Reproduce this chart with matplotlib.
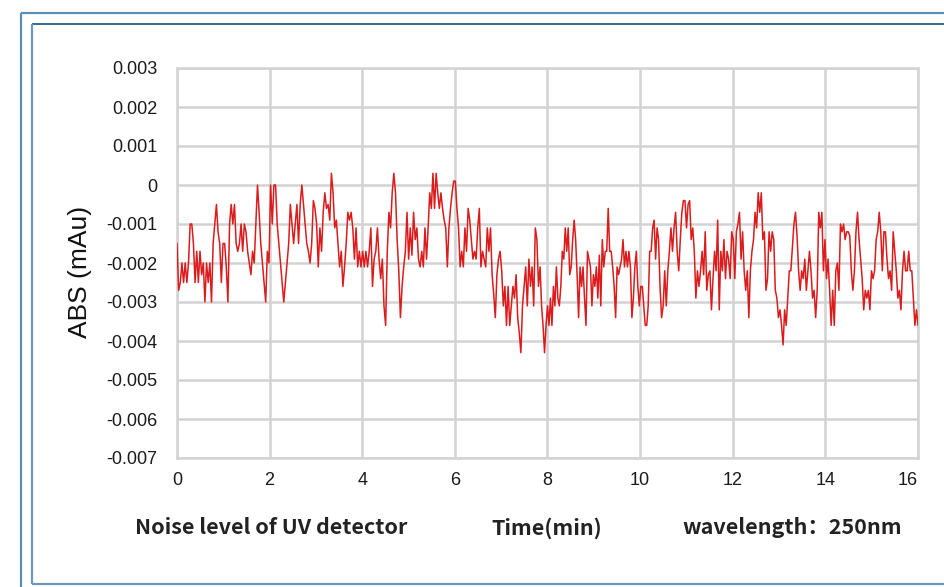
import numpy as np
import matplotlib
matplotlib.use("Agg")
import matplotlib.pyplot as plt
from matplotlib.lines import Line2D

# Detector baseline readings (ABS), logged in consecutive blocks;
# each block is sampled evenly between its start and end time (min)
block_bounds = [0.0, 2.66, 5.25, 7.84, 10.43, 13.02, 16.0]

block_1 = [
    -0.0015, -0.0027, -0.0025, -0.0020, -0.0025, -0.0020, -0.0025, -0.0020, -0.0010, -0.0010,
    -0.0015, -0.0025, -0.0017, -0.0025, -0.0017, -0.0023, -0.0020, -0.0030, -0.0020, -0.0025,
    -0.0020, -0.0030, -0.0015, -0.0010, -0.0005, -0.0012, -0.0015, -0.0025, -0.0015, -0.0015,
    -0.0021, -0.0030, -0.0010, -0.0005, -0.0010, -0.0005, -0.0015, -0.0017, -0.0015, -0.0010,
    -0.0017, -0.0010, -0.0012, -0.0017, -0.0020, -0.0023, -0.0017, -0.0020, -0.0010, 0.0000,
    -0.0007, -0.0015, -0.0020, -0.0025, -0.0030, -0.0017, -0.0020, 0.0000, -0.0010, 0.0000,
    0.0000, -0.0010, -0.0015, -0.0020, -0.0025, -0.0030, -0.0025, -0.0020, -0.0015, -0.0005,
    -0.0010, -0.0015, -0.0010, -0.0005, -0.0015,
]
block_2 = [
    -0.0005, 0.0000, -0.0005, -0.0010, -0.0015, -0.0017, -0.0020, -0.0015, -0.0004, -0.0006,
    -0.0010, -0.0021, -0.0011, -0.0017, -0.0007, -0.0002, -0.0006, -0.0005, -0.0009, 0.0003,
    -0.0002, -0.0011, -0.0009, -0.0015, -0.0021, -0.0017, -0.0026, -0.0021, -0.0015, -0.0007,
    -0.0009, -0.0007, -0.0011, -0.0019, -0.0011, -0.0021, -0.0017, -0.0021, -0.0017, -0.0021,
    -0.0017, -0.0021, -0.0017, -0.0011, -0.0026, -0.0019, -0.0017, -0.0011, -0.0019, -0.0024,
    -0.0019, -0.0031, -0.0036, -0.0017, -0.0007, -0.0011, -0.0002, 0.0003, -0.0002, -0.0014,
    -0.0022, -0.0034, -0.0026, -0.0021, -0.0017, -0.0007, -0.0019, -0.0011, -0.0018, -0.0007,
    -0.0014, -0.0011, -0.0019,
]
block_3 = [
    -0.0021, -0.0017, -0.0021, -0.0011, -0.0019, -0.0011, -0.0002, -0.0006, 0.0003, -0.0006,
    0.0003, -0.0002, -0.0006, -0.0002, -0.0006, -0.0009, -0.0011, -0.0021, -0.0011, -0.0006,
    -0.0002, 0.0001, 0.0001, -0.0006, -0.0011, -0.0021, -0.0017, -0.0021, -0.0011, -0.0017,
    -0.0006, -0.0009, -0.0014, -0.0019, -0.0017, -0.0019, -0.0011, -0.0006, -0.0021, -0.0017,
    -0.0019, -0.0021, -0.0011, -0.0017, -0.0011, -0.0023, -0.0028, -0.0034, -0.0023, -0.0019,
    -0.0017, -0.0022, -0.0031, -0.0026, -0.0036, -0.0026, -0.0036, -0.0031, -0.0026, -0.0029,
    -0.0023, -0.0034, -0.0038, -0.0043, -0.0031, -0.0026, -0.0021, -0.0031, -0.0019, -0.0026,
    -0.0021, -0.0031, -0.0011, -0.0014, -0.0026,
]
block_4 = [
    -0.0021, -0.0031, -0.0036, -0.0043, -0.0036, -0.0031, -0.0036, -0.0029, -0.0036, -0.0026,
    -0.0031, -0.0021, -0.0029, -0.0031, -0.0026, -0.0017, -0.0019, -0.0011, -0.0017, -0.0011,
    -0.0023, -0.0021, -0.0014, -0.0009, -0.0014, -0.0023, -0.0034, -0.0021, -0.0026, -0.0021,
    -0.0029, -0.0036, -0.0017, -0.0019, -0.0021, -0.0031, -0.0023, -0.0026, -0.0021, -0.0029,
    -0.0018, -0.0031, -0.0014, -0.0021, -0.0017, -0.0017, -0.0006, -0.0017, -0.0017, -0.0021,
    -0.0026, -0.0034, -0.0021, -0.0023, -0.0021, -0.0019, -0.0014, -0.0021, -0.0017, -0.0021,
    -0.0017, -0.0021, -0.0034, -0.0029, -0.0021, -0.0017, -0.0026, -0.0031, -0.0026, -0.0026,
    -0.0031, -0.0036, -0.0036, -0.0031, -0.0017, -0.0017, -0.0011, -0.0009, -0.0019, -0.0011,
    -0.0014,
]
block_5 = [
    -0.0026, -0.0034, -0.0031, -0.0022, -0.0031, -0.0022, -0.0017, -0.0011, -0.0017, -0.0011,
    -0.0007, -0.0017, -0.0022, -0.0014, -0.0007, -0.0004, -0.0004, -0.0011, -0.0005, -0.0004,
    -0.0014, -0.0011, -0.0017, -0.0029, -0.0022, -0.0026, -0.0022, -0.0017, -0.0023, -0.0012,
    -0.0027, -0.0023, -0.0022, -0.0032, -0.0024, -0.0017, -0.0022, -0.0009, -0.0032, -0.0017,
    -0.0022, -0.0014, -0.0024, -0.0017, -0.0019, -0.0024, -0.0012, -0.0014, -0.0024, -0.0012,
    -0.0010, -0.0007, -0.0019, -0.0012, -0.0022, -0.0027, -0.0022, -0.0034, -0.0022, -0.0017,
    -0.0014, -0.0007, -0.0011, -0.0002, -0.0007, -0.0002, -0.0014, -0.0012, -0.0027, -0.0024,
    -0.0012, -0.0017, -0.0012, -0.0014, -0.0027, -0.0029, -0.0034,
]
block_6 = [
    -0.0032, -0.0036, -0.0041, -0.0032, -0.0036, -0.0029, -0.0022, -0.0022, -0.0016, -0.0010,
    -0.0007, -0.0013, -0.0022, -0.0027, -0.0022, -0.0024, -0.0019, -0.0027, -0.0022, -0.0017,
    -0.0022, -0.0029, -0.0027, -0.0034, -0.0027, -0.0007, -0.0011, -0.0007, -0.0022, -0.0014,
    -0.0024, -0.0019, -0.0027, -0.0036, -0.0027, -0.0036, -0.0022, -0.0020, -0.0027, -0.0010,
    -0.0012, -0.0010, -0.0014, -0.0012, -0.0012, -0.0013, -0.0022, -0.0027, -0.0022, -0.0012,
    -0.0007, -0.0014, -0.0019, -0.0024, -0.0032, -0.0027, -0.0029, -0.0027, -0.0032, -0.0022,
    -0.0024, -0.0022, -0.0014, -0.0012, -0.0007, -0.0012, -0.0022, -0.0012, -0.0012, -0.0019,
    -0.0024, -0.0022, -0.0027, -0.0012, -0.0017, -0.0022, -0.0029, -0.0027, -0.0032, -0.0022,
    -0.0017, -0.0022, -0.0022, -0.0017, -0.0022, -0.0022, -0.0029, -0.0036, -0.0032, -0.0036,
]
blocks = [block_1, block_2, block_3, block_4, block_5, block_6]

time_parts = []
for i, blk in enumerate(blocks):
    last = i == len(blocks) - 1
    time_parts.append(np.linspace(block_bounds[i], block_bounds[i + 1], len(blk),
                                  endpoint=last))
time_min = np.concatenate(time_parts)
abs_signal = np.concatenate([np.asarray(b) for b in blocks])

x_ticks = [0, 2, 4, 6, 8, 10, 12, 14, 16]
x_tick_labels = ["0", "2", "4", "6", "8", "10", "12", "14", "16"]
y_ticks = [0.003, 0.002, 0.001, 0.0, -0.001, -0.002, -0.003, -0.004, -0.005, -0.006, -0.007]
y_tick_labels = ["0.003", "0.002", "0.001", "0", "-0.001", "-0.002", "-0.003",
                 "-0.004", "-0.005", "-0.006", "-0.007"]

W, H = 945, 587
fig = plt.figure(figsize=(W / 100, H / 100), dpi=100)
fig.patch.set_facecolor("white")

# Double frame around the panel
def fig_line(x0, y0, x1, y1, color, lw):
    fig.add_artist(Line2D([x0 / W, x1 / W], [1 - y0 / H, 1 - y1 / H],
                          transform=fig.transFigure, color=color, lw=lw,
                          solid_capstyle="butt"))

fig_line(21.5, 12.5, W + 5, 12.5, "#5a8fb5", 1.6)
fig_line(21.5, 12.5, 21.5, H + 5, "#5a8fb5", 1.6)
fig_line(32.5, 23.5, W + 5, 23.5, "#245e8c", 1.3)
fig_line(32.5, 23.5, 32.5, 583.5, "#6e98b8", 1.6)
fig_line(32.5, 583.5, W + 5, 583.5, "#6e98b8", 1.6)

ax = fig.add_axes([177 / W, 1 - 458 / H, (918 - 177) / W, (458 - 68) / H])
ax.set_facecolor("white")
ax.plot(time_min, abs_signal, color="#dc1c1c", lw=1.1, zorder=3)

ax.set_xlim(0, 16)
ax.set_ylim(-0.007, 0.003)
ax.set_xticks(x_ticks)
ax.set_xticklabels(x_tick_labels)
ax.set_yticks(y_ticks)
ax.set_yticklabels(y_tick_labels)
ax.grid(True, color="#d3d3d3", lw=1.8, zorder=0)
for s in ax.spines.values():
    s.set_color("#d3d3d3")
    s.set_linewidth(1.8)
ax.tick_params(length=0, labelsize=13, labelcolor="#1a1a1a", pad=14,
               labelfontfamily="Liberation Sans")
ax.tick_params(axis="x", pad=10)
# keep the last time label inside the plot edge
ax.get_xticklabels()[-1].set_horizontalalignment("right")

fig.text(80 / W, 1 - 272 / H, "ABS (mAu)", rotation=90, ha="center", va="center",
         fontsize=19, family="Liberation Sans", color="#111111")

cap_font = ["Noto Sans CJK SC", "DejaVu Sans"]
cap_y = 1 - 528 / H
fig.text(271 / W, cap_y, "Noise level of UV detector", ha="center", va="center",
         fontsize=15.5, fontweight="bold", family=cap_font, color="#222222")
fig.text(547 / W, cap_y, "Time(min)", ha="center", va="center",
         fontsize=15.5, fontweight="bold", family=cap_font, color="#222222")
fig.text(792 / W, cap_y, "wavelength：250nm", ha="center", va="center",
         fontsize=15.5, fontweight="bold", family=cap_font, color="#222222")

fig.savefig("out.png", dpi=100, facecolor="white")
